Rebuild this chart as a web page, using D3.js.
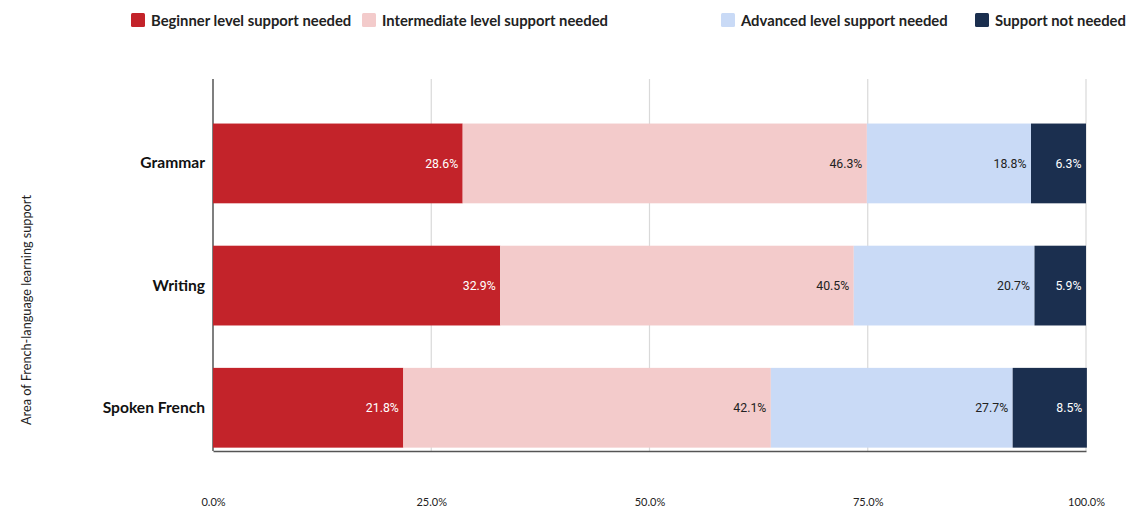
<!DOCTYPE html>
<html>
<head>
<meta charset="utf-8">
<script src="https://cdn.jsdelivr.net/npm/d3@7"></script>
<style>
  html, body { margin: 0; padding: 0; background: #fff; }
  svg { display: block; }
</style>
</head>
<body>
<svg id="chart" width="1137" height="508"></svg>
<script>
// Areas of French-language learning support
const categories = ["Grammar", "Writing", "Spoken French"];
const seriesNames = [
  "Beginner level support needed",
  "Intermediate level support needed",
  "Advanced level support needed",
  "Support not needed"
];
const beginner = [28.6, 32.9, 21.8];
const intermediate = [46.3, 40.5, 42.1];
const advanced = [18.8, 20.7, 27.7];
const notNeeded = [6.3, 5.9, 8.5];
const xTicks = [0, 25, 50, 75, 100];
const yTitle = "Area of French-language learning support";

(function () {
  const colors = ["#c3232a", "#f3cbcb", "#c9daf6", "#1b2f4f"];
  const labelColors = ["#ffffff", "#222222", "#222222", "#ffffff"];

  const rows = categories.map((c, i) => ({
    category: c,
    s0: beginner[i], s1: intermediate[i], s2: advanced[i], s3: notNeeded[i]
  }));
  const keys = ["s0", "s1", "s2", "s3"];
  const stacked = d3.stack().keys(keys)(rows);

  const svg = d3.select("#chart");
  const plotLeft = 213, plotRight = 1086, plotTop = 79, plotBottom = 451;

  const x = d3.scaleLinear().domain([0, 100]).range([plotLeft, plotRight]);
  const y = d3.scaleBand().domain(categories).range([plotTop, plotBottom])
    .paddingInner(0.347).paddingOuter(0.196).align(0.93);

  const uiFont = "Lato, 'Open Sans', sans-serif";

  // vertical gridlines
  svg.append("g").selectAll("line").data(xTicks.slice(1)).join("line")
    .attr("x1", d => x(d)).attr("x2", d => x(d))
    .attr("y1", plotTop).attr("y2", plotBottom)
    .attr("stroke", "#d9d9d9").attr("stroke-width", 1.2);

  // x axis
  const xAxis = d3.axisBottom(x).tickValues(xTicks)
    .tickFormat(d => d3.format(".1f")(d) + "%").tickSize(0).tickPadding(0);
  const gx = svg.append("g").attr("transform", `translate(0,${plotBottom})`).call(xAxis);
  gx.select(".domain").attr("stroke", "#555").attr("stroke-width", 1.5);
  gx.selectAll("text").attr("y", 55).attr("dy", 0)
    .attr("font-family", uiFont).attr("font-size", 11).attr("fill", "#222");

  // left axis line
  svg.append("line").attr("x1", plotLeft).attr("x2", plotLeft)
    .attr("y1", plotTop).attr("y2", plotBottom)
    .attr("stroke", "#555").attr("stroke-width", 1.5);

  // stacked bars
  const layers = svg.append("g").selectAll("g").data(stacked).join("g")
    .attr("fill", (d, i) => colors[i]);
  layers.selectAll("rect").data(d => d).join("rect")
    .attr("x", d => x(d[0]))
    .attr("y", d => y(d.data.category))
    .attr("width", d => x(d[1]) - x(d[0]))
    .attr("height", y.bandwidth());

  // value labels
  const labels = svg.append("g").selectAll("g").data(stacked).join("g");
  labels.each(function (layer, li) {
    d3.select(this).selectAll("text").data(layer).join("text")
      .attr("x", d => x(d[1]) - 4.5)
      .attr("y", d => y(d.data.category) + y.bandwidth() / 2)
      .attr("dy", "0.35em")
      .attr("text-anchor", "end")
      .attr("font-family", "Roboto, sans-serif")
      .attr("font-size", 12.3)
      .attr("fill", labelColors[li])
      .text(d => d3.format(".1f")(d.data[layer.key]) + "%");
  });

  // category labels
  const yAxis = d3.axisLeft(y).tickSize(0).tickPadding(8);
  const gy = svg.append("g").attr("transform", `translate(${plotLeft},0)`).call(yAxis);
  gy.select(".domain").remove();
  gy.selectAll("text").attr("font-family", uiFont).attr("font-weight", "bold")
    .attr("font-size", 15.6).attr("fill", "#111");

  // y title
  svg.append("text")
    .attr("transform", "translate(31,310) rotate(-90)")
    .attr("text-anchor", "middle")
    .attr("font-family", uiFont).attr("font-size", 12.7).attr("fill", "#222")
    .text(yTitle);

  // legend
  const legendX = [131, 362, 721, 975];
  const legend = svg.append("g").selectAll("g").data(seriesNames).join("g")
    .attr("transform", (d, i) => `translate(${legendX[i]},13)`);
  legend.append("rect").attr("width", 14).attr("height", 14).attr("rx", 1.5)
    .attr("fill", (d, i) => colors[i]);
  legend.append("text").attr("x", 20).attr("y", 12.5)
    .attr("font-family", uiFont).attr("font-weight", "bold").attr("font-size", 14.8)
    .attr("fill", "#222").text(d => d);
})();
</script>
</body>
</html>
